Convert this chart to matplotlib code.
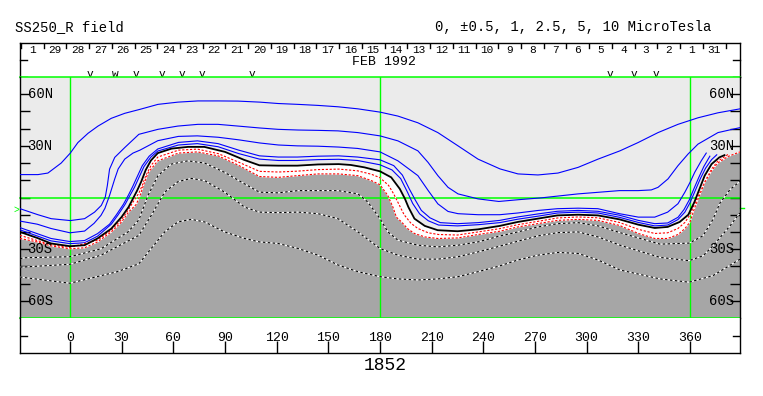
import matplotlib
matplotlib.use("Agg")
import matplotlib.pyplot as plt

plt.rcParams["font.family"] = ["Liberation Mono", "DejaVu Sans Mono"]

# --- dados (longitude Carrington, latitude) ---
# contornos positivos (azul), de fora para dentro
P1_lon = [-29, -18.6, -12.8, -5.1, 0.2, 4.6, 10.5, 16.3, 24, 31.8, 40.6, 51.1, 62.7, 74.3, 85.9, 97.5, 110.3,
          120.8, 132.4, 144, 155.6, 167.2, 180, 190.4, 202, 213.6, 225.3, 236.9, 249.7, 260.1, 271.7, 283.3,
          295, 306.6, 319.3, 329.8, 341.4, 353, 364.6, 376.2, 389]
P1_lat = [13.3, 13.3, 14.2, 20, 25.8, 31.9, 37.3, 41.5, 46, 48.9, 51.2, 54.1, 55.4, 56.1, 56.1, 56, 55.4,
          54.6, 54.1, 53.5, 52.7, 51.5, 49.6, 47.3, 43.4, 37.7, 30, 22.3, 16.6, 13.7, 13.1, 14.2,
          17.5, 22.3, 27.1, 31.9, 37.7, 42.5, 46.3, 49.2, 51.5]

P2_lon = [-29, -18.6, -10.9, 0.2, 8.5, 14.3, 18.2, 20.5, 21.7, 23, 26, 31.8, 40, 51.1, 62.7, 74.3, 85.9,
          97.5, 110, 120.8, 132.4, 144, 155.6, 167.2, 180, 190.4, 202, 207.9, 213.6, 219.5, 225.3, 236.9,
          249, 260.1, 273.7, 295, 319, 329.8, 337.5, 341.4, 347.2, 353, 358.8, 364.6, 376.2, 389]
P2_lat = [-6.5, -10, -12.3, -13.4, -12.3, -8.5, -4.6, 0.2, 6.9, 16.5, 23.3, 29, 36.7, 39.6, 41.5, 42.5, 42.5,
          41.5, 40.4, 39.6, 39.2, 39, 38.7, 37.7, 35.8, 32.9, 27.1, 20.4, 12.7, 5.9, 2.1, -0.8,
          -2.3, -1.3, -0.2, 2.1, 4, 4, 4.4, 5.9, 10.8, 18.5, 25.2, 31, 37.7, 40.6]

P3_lon = [-29, -19, -11, 0, 8.5, 14, 18, 20.3, 23, 26, 28, 31.8, 36.6, 40.6, 51, 63, 74, 86, 98, 110,
          121, 132, 144, 156, 167, 180, 190.4, 202, 208, 213.6, 219.5, 225.3, 237, 249.5, 260,
          272, 283, 295, 306.5, 319, 330, 339.5, 347, 353, 357, 360, 362.7, 366.5, 369.4]
P3_lat = [-13.7, -15.5, -18, -20.5, -19.5, -15, -10.4, -6.3, 1.2, 10.8, 16.6, 22.3, 25.8, 27.5, 33, 35.5,
          35.8, 35, 33.5, 31.7, 30.5, 30, 29.8, 29.3, 28.5, 26.5, 21.3, 12.7, 4, -3.7, -8.1, -9.4, -10,
          -10, -9, -7.5, -6.5, -6.2, -6.5, -9.4, -11.4, -11.4, -8.5, -3.6, 3.1, 8.8, 14.6, 21.3, 25.8]

P4_lon = [-29, -11, 0, 8.5, 16, 23, 27, 31, 34, 36.5, 39, 42, 46, 51, 63, 74, 86, 98, 110, 121, 132, 144,
          156, 167, 180, 188, 193, 197, 200.5, 204, 209, 215, 225, 237, 249.5, 260, 272, 283, 295, 306.5,
          319, 330, 339.5, 347, 353, 356.5, 359.5, 362, 365, 368, 371.5]
P4_lat = [-17.5, -23.8, -25.6, -25, -21, -15.5, -10, -4, 1.5, 6.5, 12, 18.5, 24, 28.2, 32, 32.9, 31.3, 27.5,
          24.2, 23.5, 23.5, 24, 24.2, 23.5, 21.9, 18.5, 13, 5, -1.5, -7.5, -11.8, -14.6, -15.2, -14.6, -13.3,
          -11.3, -9.5, -8, -7.5, -8, -10.3, -13.3, -15.2, -14.8, -11.5, -7, -1.5, 4.5, 11.5, 18, 24]

P5_lon = [-29, -11, 0, 8.5, 16, 24, 28, 32, 35, 37.5, 40, 43, 47, 51, 63, 74, 86, 98, 110, 121, 132, 144,
          156, 167, 180, 187, 192, 196, 199, 203, 208, 214, 225, 237, 249.5, 260, 272, 283, 295, 306.5,
          319, 330, 339.5, 347, 353, 357, 360, 363, 366, 369, 372.5, 375.5]
P5_lat = [-18.8, -25.2, -26.8, -26.3, -22.5, -15.5, -10, -4, 1.5, 6, 11.5, 18, 23.5, 27, 30.5, 31.3, 29.5,
          25.5, 22.3, 21.5, 21.5, 22, 22.2, 21.5, 19, 16, 11, 3, -3.5, -9.5, -13.5, -16, -16.5, -15.8,
          -14.6, -12.6, -10.8, -9, -8.5, -9, -11.5, -14.5, -16.5, -16, -12.8, -8.5, -3, 4, 11, 17, 22, 24.8]

# linha neutra (preta)
N_lon = [-29, -19, -11, 0, 8.5, 16, 24, 30, 34, 36.5, 39, 41.5, 44, 47, 51, 59, 68.5, 78, 90, 101, 110,
         121, 132, 144, 156, 163, 171, 180, 186.5, 191.5, 194.5, 196.5, 200, 206, 213.5, 225, 237, 249.5,
         260, 271.5, 283, 295, 306.5, 319, 330, 339.5, 347, 354, 359, 362.5, 365.5, 368.5, 372.5, 377, 380]
N_lat = [-20, -23.5, -26.7, -28.3, -27.7, -23.8, -18.1, -11.3, -5.6, -0.8, 4, 9.5, 16, 21.5, 25.8, 28.4,
         29.4, 29.4, 26.5, 21.9, 18.7, 18.5, 18.5, 19.2, 19.4, 18.9, 17.5, 15.2, 11.7, 5, -0.8, -5.6, -12.3,
         -16.5, -19, -19.6, -18.5, -16.5, -14.2, -12.3, -10.4, -10, -10.4, -12.7, -15.8, -17.7, -17.1,
         -14.2, -10, -2.7, 5, 12.7, 19.4, 23.3, 24.6]

# contornos negativos vermelhos (R2 = borda da area cinza)
R1_lon = [-29, -11, 0, 16, 24, 30, 34, 37, 40, 42, 44, 47, 51, 63, 74, 86, 98, 110, 121, 132, 144, 156,
          167, 175, 180, 185, 188, 191, 194, 198, 202, 208, 214, 225, 237, 249.5, 260, 272, 283, 295,
          306.5, 319, 330, 339.5, 347, 353, 357, 360, 363, 366, 369, 372.5, 376, 382]
R1_lat = [-22, -27.4, -29, -24.8, -19, -12.8, -7, -2, 2.5, 7, 12.5, 18.5, 23.5, 27.5, 28.1, 25.5, 20.5,
          15.2, 14.8, 15.3, 16.2, 16.5, 15.5, 13.5, 11.5, 7, 2, -4, -10, -15, -18, -20.5, -21.5, -21.8,
          -20, -18.1, -15.8, -13.8, -11.9, -11.3, -11.8, -14.5, -18.5, -20.9, -20.5, -18, -14.5, -10, -3,
          3.5, 10, 16.5, 21, 25]

R2_lon = [-29, -19, -11, 0, 8.5, 16, 24, 30, 34, 38.5, 41, 43, 45.5, 51, 63, 74, 86, 97.5, 110, 121, 132,
          144, 156, 167, 175, 180, 184.5, 187.5, 189.5, 192.5, 196, 200, 206, 213.5, 225, 237, 249.5, 260,
          271.5, 283, 295, 306.5, 319, 330, 339.5, 347, 353, 357, 360, 362.5, 365.5, 368.5, 372.5, 376,
          382, 389]
R2_lat = [-23.8, -25.8, -28.1, -29.8, -29.2, -25.8, -20, -14.2, -8.5, -4, 2, 8, 14.6, 21.3, 25.8, 26.5,
          24.2, 18.9, 12.2, 11.7, 12.7, 13.7, 13.7, 12.7, 9.8, 7.4, 1.2, -5.6, -11.4, -14.2, -18.1, -20.9,
          -22.9, -23.8, -23.5, -21.5, -19.6, -17.1, -15.2, -13.3, -12.7, -13.3, -16.2, -20.9, -23.8,
          -23.8, -21.5, -18.1, -14.2, -6.5, 1.2, 8.8, 15.6, 20, 23.8, 26.5]

# contornos negativos tracejados (preto/branco)
D1_lon = [-29, -26, 0, 18, 33.7, 40, 45.3, 51.1, 58.8, 68.5, 78.2, 89.8, 101.4, 110, 120.8, 132.4, 144,
          155.6, 167.2, 173, 180, 184.6, 190.4, 202, 213.6, 225.3, 236.9, 249, 260, 271.7, 283.3, 295,
          306.6, 319.3, 342.6, 359.4, 367.5, 373.3, 377.4, 383.2, 389]
D1_lat = [-35.5, -35, -34.4, -29.8, -20, -13, 1.2, 12.7, 19.4, 21.3, 20, 14.6, 7.9, 3.1, 2.7, 4, 4, 4, 2.1,
          -2.7, -12.3, -20, -24.8, -27.7, -28.7, -27.7, -25.8, -22.5, -20, -17.1, -15.2, -14.6, -16.5,
          -20.4, -27.1, -26.5, -22.3, -12.7, -3.1, 4.6, 9.4]

D2_lon = [-29, 0, 18, 40, 47.2, 55, 62.7, 70.4, 78.2, 89.8, 101.4, 110, 120.8, 132.4, 144, 155.6, 167.2,
          180, 190.4, 202, 213.6, 225.3, 236.9, 249, 260, 271.7, 283.3, 295, 306.6, 319.3, 342.6, 359.4,
          367.5, 373.3, 383.2, 389]
D2_lat = [-40.5, -38.8, -33.5, -22, -10.4, 3.1, 9.2, 11.1, 9.8, 3.1, -5.6, -8.5, -8.8, -8.5, -9.4, -12.3,
          -20, -29.6, -33.5, -35.8, -35.8, -34.4, -31.6, -28.4, -25.4, -22.3, -20.4, -20, -22.9, -27.7,
          -34.8, -36.7, -33.9, -28.1, -16.5, -8.8]

D3_lon = [-29, 0, 27.5, 40, 47.2, 55, 62.7, 70.4, 78.2, 89.8, 101.4, 110, 120.8, 132.4, 144, 155.6, 167.2,
          180, 190.4, 202, 213.6, 225.3, 236.9, 249, 260, 271.7, 283.3, 295, 306.6, 319.3, 342.6, 359.4,
          373.3, 389]
D3_lat = [-46.2, -49.8, -43.1, -38.5, -29.6, -20, -14.2, -12.7, -14.2, -20, -23.8, -25.8, -26.7, -29.6,
          -33.5, -39.2, -43.1, -46, -47.3, -47.9, -47.3, -46, -43.1, -39.9, -36.3, -33.5, -31.9, -32.5,
          -36.3, -42.1, -47.3, -49.2, -45.4, -35.8]

# eixos e rotulos
DAY_LABELS = ["1", "29", "28", "27", "26", "25", "24", "23", "22", "21", "20", "19", "18", "17", "16",
              "15", "14", "13", "12", "11", "10", "9", "8", "7", "6", "5", "4", "3", "2", "1", "31"]
DAY0 = -28.5
DAY_STEP = 360 / 27.2753
MARK_LON = [11.6, 26.1, 38.3, 53.6, 65.2, 76.8, 105.9, 313.5, 327.6, 340.2]
MARK_TXT = ["v", "w", "v", "v", "v", "v", "v", "v", "v", "v"]
LON_TICKS = [0, 30, 60, 90, 120, 150, 180, 210, 240, 270, 300, 330, 360]
LAT_TICKS = [-60, -50, -40, -30, -20, -10, 0, 10, 20, 30, 40, 50, 60]
LAT_LABEL_VALUES = [60, 30, -30, -60]
LAT_LABELS = ["60N", "30N", "30S", "60S"]
B0_LAT = -7
ROTATION = "1852"

LIGHT = "#ebebeb"
DARK = "#a6a6a6"
GREEN = "#00ff00"
W, H = 763, 396


def box(x0, y0, x1, y1):
    # retangulo em pixels -> fracao da figura
    return [x0 / W, 1 - y1 / H, (x1 - x0) / W, (y1 - y0) / H]


fig = plt.figure(figsize=(W / 100, H / 100), dpi=100)
ax_top = fig.add_axes(box(20, 43, 740, 77))
ax = fig.add_axes(box(20, 77, 740, 318))
ax_bot = fig.add_axes(box(20, 318, 740, 353))

for a in (ax_top, ax, ax_bot):
    a.set_xlim(-29, 389)
    a.set_xticks([])
    a.set_yticks([])
    for s in a.spines.values():
        s.set_color("black")
        s.set_linewidth(1)
ax_top.spines["bottom"].set_visible(False)
ax.spines["top"].set_visible(False)
ax.spines["bottom"].set_visible(False)
ax_bot.spines["top"].set_visible(False)

# --- mapa ---
ax.set_ylim(-70, 70)
ax.set_facecolor(LIGHT)
ax.fill_between(N_lon, N_lat, -70, color="white", lw=0, zorder=1)
ax.fill_between(R2_lon, R2_lat, -70, color=DARK, lw=0, zorder=1)

for lon in (0, 180, 360):
    ax.axvline(lon, color=GREEN, lw=1, zorder=2)
for lat in (-70, 0, 70):
    ax.axhline(lat, color=GREEN, lw=1.1, zorder=2, clip_on=False)

for lon, lat in [(P1_lon, P1_lat), (P2_lon, P2_lat), (P3_lon, P3_lat), (P4_lon, P4_lat), (P5_lon, P5_lat)]:
    ax.plot(lon, lat, color="#0000ff", lw=0.8, zorder=3)

for lon, lat in [(D1_lon, D1_lat), (D2_lon, D2_lat), (D3_lon, D3_lat)]:
    ax.plot(lon, lat, color="white", lw=0.8, zorder=3)
    ax.plot(lon, lat, color="black", lw=0.8, ls=(0, (2.2, 2.2)), zorder=3)

for lon, lat in [(R1_lon, R1_lat), (R2_lon, R2_lat)]:
    ax.plot(lon, lat, color="white", lw=0.8, zorder=3)
    ax.plot(lon, lat, color="red", lw=0.8, ls=(0, (2, 1.5)), zorder=3)

ax.plot(N_lon, N_lat, color="black", lw=1.3, zorder=4)

ax.set_yticks(LAT_TICKS)
ax.tick_params(axis="y", direction="in", length=7, width=1, color="black",
               left=True, right=True, labelleft=False, labelright=False)
ytr = ax.get_yaxis_transform()
for lat, txt in zip(LAT_LABEL_VALUES, LAT_LABELS):
    ax.text(0.0105, lat, txt, transform=ytr, ha="left", va="center", fontsize=10, zorder=5)
    ax.text(0.9915, lat, txt, transform=ytr, ha="right", va="center", fontsize=10, zorder=5)

# marca da latitude da Terra
ax.text(-0.0015, B0_LAT, ">", transform=ytr, ha="right", va="center", color=GREEN,
        fontsize=7, clip_on=False)
ax.plot([1, 1.005], [B0_LAT + 1, B0_LAT + 1], transform=ytr, color=GREEN, lw=1, clip_on=False)

# --- faixa de datas ---
ax_top.set_ylim(0, 1)
for i in range(len(DAY_LABELS) + 1):
    x = DAY0 + i * DAY_STEP
    ax_top.plot([x, x], [1, 1 - 5 / 34], color="black", lw=1)
for i, d in enumerate(DAY_LABELS):
    ax_top.text(DAY0 + (i + 0.5) * DAY_STEP, 0.785, d, ha="center", va="center", fontsize=8)
ax_top.text(182.5, 0.44, "FEB 1992", ha="center", va="center", fontsize=9.5)
# marcas "v"/"w" cortadas pela linha verde do mapa
for lon, m in zip(MARK_LON, MARK_TXT):
    ax_top.text(lon, 0.08, m, ha="center", va="center", fontsize=8)
for y in (0.5, 0.0):
    ax_top.plot([0, 7 / 720], [y, y], transform=ax_top.transAxes, color="black", lw=1, clip_on=False)
    ax_top.plot([1 - 7 / 720, 1], [y, y], transform=ax_top.transAxes, color="black", lw=1, clip_on=False)

# --- eixo de longitude ---
ax_bot.set_ylim(0, 1)
ax_bot.set_xticks(LON_TICKS)
ax_bot.tick_params(axis="x", direction="in", length=9, width=1, color="black",
                   bottom=True, top=False, labelbottom=False)
for lon in LON_TICKS:
    ax_bot.text(lon, 0.44, str(lon), ha="center", va="center", fontsize=9.5)
y = 17 / 35
ax_bot.plot([0, 7 / 720], [y, y], transform=ax_bot.transAxes, color="black", lw=1)
ax_bot.plot([1 - 7 / 720, 1], [y, y], transform=ax_bot.transAxes, color="black", lw=1)

# --- titulos ---
fig.text(15 / W, 1 - 27 / H, "SS250_R field", ha="left", va="center", fontsize=10)
fig.text(711 / W, 1 - 27 / H, "0, \u00b10.5, 1, 2.5, 5, 10 MicroTesla", ha="right", va="center", fontsize=10)
fig.text(385 / W, 1 - 366 / H, ROTATION, ha="center", va="center", fontsize=13)

fig.savefig("out.png", dpi=100)
